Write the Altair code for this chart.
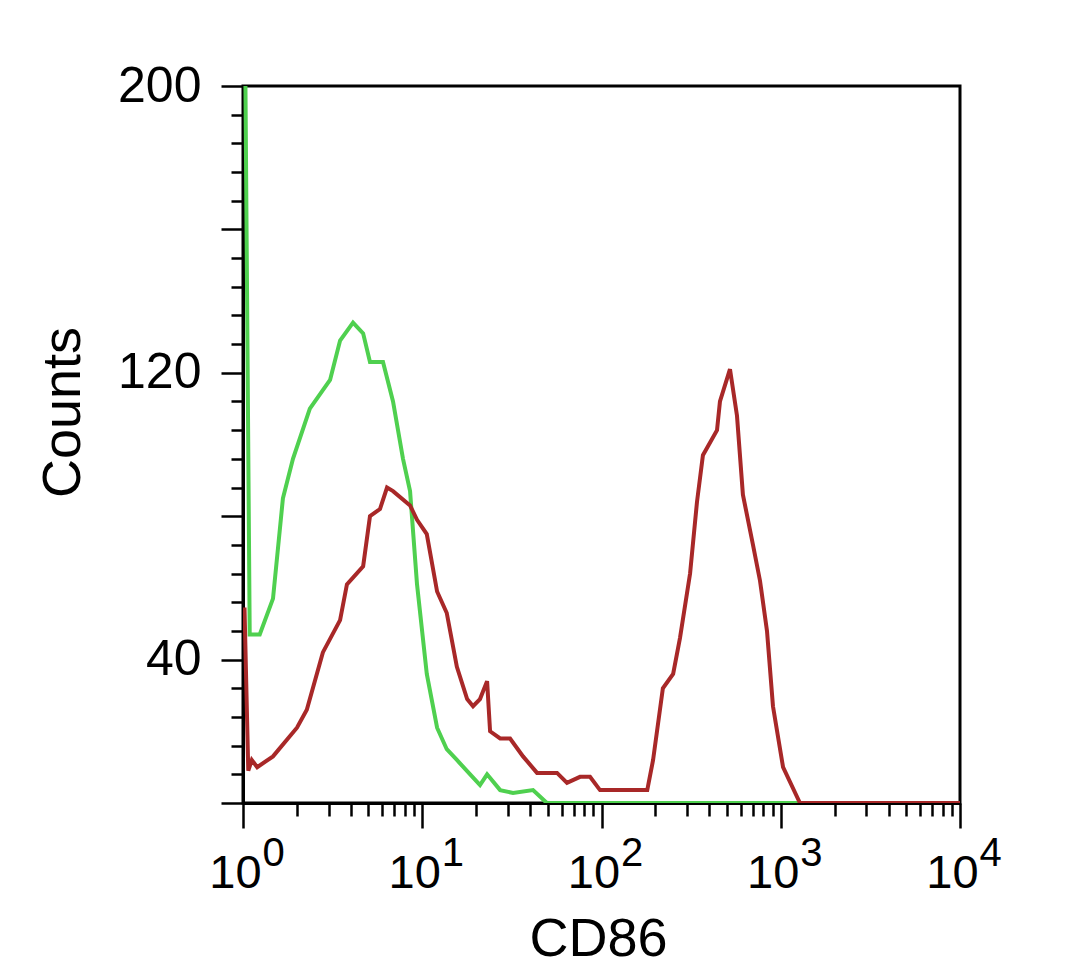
import altair as alt
import pandas as pd

# ---- data ----
green_cd86 = [1.0, 1.01, 1.09, 1.24, 1.47, 1.67, 1.90, 2.36, 3.06, 3.48,
              4.11, 4.68, 5.11, 6.04, 6.87, 7.81, 8.55, 9.35, 10.6, 12.1,
              13.7, 15.6, 18.5, 21.0, 23.0, 27.2, 32.1, 41.5, 49.6, 10000]
green_counts = [260, 260, 47, 47, 57, 85, 96, 110, 118, 129,
                134, 131, 123, 123, 112, 96, 87, 61, 36, 21,
                15, 12, 8, 5, 8, 3.6, 2.8, 3.6, 0, 0]

red_cd86 = [1.0, 1.02, 1.07, 1.12, 1.20, 1.47, 2.0, 2.27, 2.79, 3.48,
            3.80, 4.68, 5.11, 5.81, 6.36, 6.87, 8.55, 9.35, 10.6, 12.1,
            13.7, 15.6, 17.8, 19.2, 21.0, 23.0, 23.9, 27.2, 30.9, 36.5,
            43.7, 56.5, 64.2, 75.9, 86.3, 98.1, 150, 180, 194, 220,
            251, 274, 312, 341, 368, 441, 458, 521, 570, 615,
            700, 766, 838, 905, 1030, 1280, 10000]
red_counts = [54, 54, 9, 12, 10, 13, 21, 26, 42, 51,
              61, 66, 80, 82, 88, 87, 83, 79, 75, 59,
              53, 38, 29, 27, 29, 34, 20, 18, 18, 13,
              8.4, 8.4, 5.6, 7.3, 7.3, 3.6, 3.6, 3.6, 12, 32,
              36, 46, 64, 84, 97, 104, 112, 121, 108, 86,
              72, 62, 48, 27, 10, 0, 0]

x_decades = [1, 10, 100, 1000, 10000]
x_tick_base = "10"
x_tick_exponents = ["0", "1", "2", "3", "4"]
y_tick_labels = [40, 120, 200]

green_df = pd.DataFrame({"cd86": green_cd86, "counts": green_counts})
red_df = pd.DataFrame({"cd86": red_cd86, "counts": red_counts})

x_values = [m * d for d in x_decades[:-1] for m in range(1, 10)] + [x_decades[-1]]
y_values = list(range(0, 201, 8))

x_major_test = " || ".join(f"datum.value == {d}" for d in x_decades)
x_base_expr = f"({x_major_test}) ? '{x_tick_base}' : ''"
x_exp_expr = "''"
for d, lab in reversed(list(zip(x_decades, x_tick_exponents))):
    x_exp_expr = f"datum.value == {d} ? '{lab}' : ({x_exp_expr})"
y_label_expr = " || ".join(f"datum.value == {v}" for v in y_tick_labels)
y_label_expr = f"({y_label_expr}) ? datum.label : ''"

FONT = "Liberation Sans"
x_scale = alt.Scale(type="log", domain=[1, 10000], nice=False)
y_scale = alt.Scale(domain=[0, 200], nice=False)

x_main = alt.X(
    "cd86:Q",
    scale=x_scale,
    axis=alt.Axis(
        orient="bottom",
        title="CD86",
        values=x_values,
        labelExpr=x_base_expr,
        labelFont=FONT,
        labelFontSize=47,
        labelColor="black",
        labelBaseline="alphabetic",
        labelPadding=59,
        labelOffset=-8,
        labelOverlap=False,
        labelFlush=False,
        tickSize={"condition": {"test": x_major_test, "value": 25}, "value": 13},
        tickColor="black",
        tickWidth=2.5,
        domainColor="black",
        domainWidth=3,
        grid=False,
        titleFont=FONT,
        titleFontSize=54,
        titleFontWeight="normal",
        titleColor="black",
        titleBaseline="alphabetic",
        titleY=152,
        titleX=355,
        titleAlign="center",
    ),
)
x_exp = alt.X(
    "cd86:Q",
    scale=x_scale,
    axis=alt.Axis(
        orient="bottom",
        title=None,
        values=[float(d) for d in x_decades],
        labelExpr=x_exp_expr,
        labelFont=FONT,
        labelFontSize=40,
        labelColor="black",
        labelBaseline="alphabetic",
        labelPadding=62,
        labelOffset=30,
        labelOverlap=False,
        labelFlush=False,
        ticks=False,
        tickSize=0,
        domain=False,
        grid=False,
    ),
)
y_enc = alt.Y(
    "counts:Q",
    scale=y_scale,
    axis=alt.Axis(
        title="Counts",
        values=y_values,
        labelExpr=y_label_expr,
        labelFont=FONT,
        labelFontSize=50,
        labelColor="black",
        labelPadding=20,
        labelOverlap=False,
        labelFlush=False,
        tickSize={"condition": {"test": "datum.value % 40 === 0", "value": 22}, "value": 12},
        tickColor="black",
        tickWidth=2.5,
        domainColor="black",
        domainWidth=3,
        grid=False,
        titleFont=FONT,
        titleFontSize=54,
        titleFontWeight="normal",
        titleColor="black",
        titleBaseline="alphabetic",
        titleAngle=-90,
        titleX=-164,
        titleY=326,
        titleAlign="center",
    ),
)

green_line = alt.Chart(green_df).mark_line(
    color="#4fd04f", strokeWidth=4, clip=True
).encode(x=x_main, y=y_enc, order=alt.Order("cd86:Q"))

red_line = alt.Chart(red_df).mark_line(
    color="#a82828", strokeWidth=4, clip=True
).encode(x=x_exp, y=y_enc, order=alt.Order("cd86:Q"))

chart = alt.layer(green_line, red_line).resolve_scale(
    x="shared", y="shared"
).resolve_axis(x="independent").properties(
    width=717,
    height=717,
    autosize=alt.AutoSizeParams(type="none"),
    padding={"left": 235, "top": 78, "right": 100, "bottom": 168},
    background="white",
).configure_view(stroke="black", strokeWidth=3)

chart.save("out.html", embed_options={"renderer": "svg", "actions": False})
